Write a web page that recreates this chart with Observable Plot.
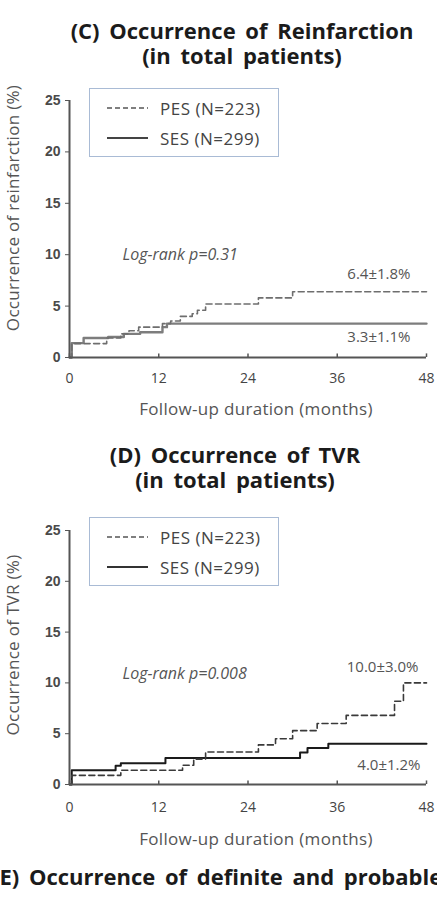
<!DOCTYPE html>
<html>
<head>
<meta charset="utf-8">
<script src="https://cdn.jsdelivr.net/npm/d3@7"></script>
<script src="https://cdn.jsdelivr.net/npm/@observablehq/plot@0.6"></script>
<style>
  html, body { margin: 0; padding: 0; background: #fff; }
  body { width: 437px; height: 897px; overflow: hidden; position: relative; font-family: "Open Sans", sans-serif; }
  .title { position: absolute; font-weight: 700; font-size: 22px; line-height: 25px; color: #1b1b1b;
           text-align: center; white-space: nowrap; word-spacing: 4px; transform: translateX(-50%); }
  .xlab { position: absolute; font-size: 17px; line-height: 17px; color: #555; letter-spacing: 0.3px;
          white-space: nowrap; transform: translateX(-50%); }
  .ylab { position: absolute; font-size: 17px; line-height: 17px; color: #555; letter-spacing: 0.3px;
          white-space: nowrap; transform: translate(-50%, -50%) rotate(-90deg); }
  .legend { position: absolute; box-sizing: border-box; border: 1.5px solid #a9bbd5; background: #fff; }
  .legend .row { position: absolute; left: 0; height: 20px; display: flex; align-items: center; }
  .legend .row span { font-size: 17px; color: #444; letter-spacing: 0.5px; margin-left: 12px; white-space: nowrap; }
  .panel { position: absolute; left: 0; }
</style>
</head>
<body>
<script>
// Follow-up time axis (months) and outcome axis (%)
const monthTicks = [0, 12, 24, 36, 48];
const pctTicks = [0, 5, 10, 15, 20, 25];

// Stent groups
const groups = ["PES", "SES"];
const groupN = [223, 299];

// (C) Cumulative reinfarction, Kaplan-Meier steps
const reinfPesMonths = [0, 0.3, 5.0, 6.9, 8.0, 9.3, 12.5, 13.6, 14.9, 16.5, 17.2, 18.3, 25.4, 30.0, 48];
const reinfPesPct    = [0, 1.35, 1.9, 2.3, 2.6, 2.95, 3.3, 3.55, 4.0, 4.25, 4.6, 5.2, 5.8, 6.4, 6.4];
const reinfSesMonths = [0, 0.3, 1.9, 5.2, 7.3, 9.5, 12.5, 13.1, 48];
const reinfSesPct    = [0, 1.4, 1.9, 2.0, 2.3, 2.45, 2.95, 3.3, 3.3];
const reinfSE = [1.8, 1.1];
const reinfLogRank = "0.31";

// (D) Cumulative target vessel revascularisation
const tvrPesMonths = [0, 0.3, 6.9, 15.2, 16.7, 18.3, 25.4, 27.7, 30.0, 33.3, 37.2, 43.7, 44.9, 48];
const tvrPesPct    = [0, 0.9, 1.4, 1.9, 2.5, 3.2, 3.9, 4.5, 5.3, 6.0, 6.8, 8.2, 10.0, 10.0];
const tvrSesMonths = [0, 0.3, 6.2, 6.9, 12.9, 31.0, 32.0, 34.8, 48];
const tvrSesPct    = [0, 1.4, 1.85, 2.1, 2.6, 3.15, 3.6, 4.0, 4.0];
const tvrSE = [3.0, 1.2];
const tvrLogRank = "0.008";

function steps(months, pct, group) {
  return months.map((m, i) => ({month: m, pct: pct[i], group}));
}

function addText(cls, text, style) {
  const d = document.createElement("div");
  d.className = cls;
  d.innerHTML = text;
  Object.assign(d.style, style);
  document.body.appendChild(d);
  return d;
}

// Boxed key: a line sample and the group size for each stent
function addLegend(top, colors, dashes, widths) {
  const box = document.createElement("div");
  box.className = "legend";
  Object.assign(box.style, {left: "89px", top: top + "px", width: "190px", height: "69px"});
  const ns = "http://www.w3.org/2000/svg";
  groups.forEach((g, i) => {
    const row = document.createElement("div");
    row.className = "row";
    row.style.top = (i === 0 ? 9 : 39) + "px";
    row.style.left = "17px";
    const s = document.createElementNS(ns, "svg");
    s.setAttribute("width", 41); s.setAttribute("height", 6);
    const l = document.createElementNS(ns, "line");
    l.setAttribute("x1", 0); l.setAttribute("x2", 41); l.setAttribute("y1", 3); l.setAttribute("y2", 3);
    l.setAttribute("stroke", colors[i]); l.setAttribute("stroke-width", widths[i]);
    if (dashes[i]) l.setAttribute("stroke-dasharray", dashes[i]);
    s.appendChild(l);
    const t = document.createElement("span");
    t.textContent = `${g} (N=${groupN[i]})`;
    row.appendChild(s); row.appendChild(t);
    box.appendChild(row);
  });
  document.body.appendChild(box);
}

function panel({top, height, marginTop, marginBottom, pes, ses, se, logRank, colors, widths,
                tickPad, logDy, endDx, endDy}) {
  const ends = [
    {group: "PES", month: pes[pes.length - 1].month, pct: pes[pes.length - 1].pct, se: se[0]},
    {group: "SES", month: ses[ses.length - 1].month, pct: ses[ses.length - 1].pct, se: se[1]}
  ];
  const chart = Plot.plot({
    width: 437, height,
    marginLeft: 69, marginRight: 11, marginTop, marginBottom,
    x: {domain: [0, 48]},
    y: {domain: [0, 25]},
    style: {fontFamily: "Open Sans, sans-serif", background: "transparent", overflow: "visible"},
    marks: [
      Plot.line(ses, {x: "month", y: "pct", curve: "step-after", stroke: colors[1], strokeWidth: widths[1]}),
      Plot.line(pes, {x: "month", y: "pct", curve: "step-after", stroke: colors[0], strokeWidth: widths[0],
                      strokeDasharray: "6,3.5"}),
      Plot.ruleX([0], {stroke: "#555", strokeWidth: 2}),
      Plot.ruleY([0], {stroke: "#555", strokeWidth: 2}),
      Plot.ruleX(monthTicks, {y1: 0, y2: 0.35, stroke: "#555", strokeWidth: 1.5}),
      Plot.axisX({ticks: monthTicks, tickSize: 0, tickPadding: tickPad, label: null,
                  fontSize: 14, fill: "#444"}),
      Plot.axisY({ticks: pctTicks, tickSize: 4, tickPadding: 5, label: null, stroke: "#555",
                  fontSize: 14, fontWeight: 700, fontFamily: "Liberation Sans, Arial, sans-serif", fill: "#4a4a4a"}),
      Plot.text([logRank], {frameAnchor: "top-left", dx: 53, dy: logDy, lineAnchor: "middle", textAnchor: "start",
                            text: d => `Log-rank p=${d}`, fontStyle: "italic", fontSize: 16, fill: "#555"}),
      ...ends.map((e, i) =>
        Plot.text([e], {x: "month", y: "pct", text: d => `${d.pct.toFixed(1)}±${d.se.toFixed(1)}%`,
                        textAnchor: "end", lineAnchor: "middle", fontSize: 15, fill: "#555",
                        dx: endDx[i], dy: endDy[i]}))
    ]
  });
  const wrap = document.createElement("div");
  wrap.className = "panel";
  wrap.style.top = top + "px";
  wrap.appendChild(chart);
  document.body.appendChild(wrap);
}

// (C) Reinfarction
addText("title", "(C) Occurrence of Reinfarction<br>(in total patients)", {left: "242px", top: "18px"});
panel({
  top: 80, height: 315, marginTop: 20, marginBottom: 38,
  pes: steps(reinfPesMonths, reinfPesPct, "PES"),
  ses: steps(reinfSesMonths, reinfSesPct, "SES"),
  se: reinfSE, logRank: reinfLogRank,
  colors: ["#6e6e6e", "#7d7d7d"], widths: [1.6, 2.4],
  tickPad: 16, logDy: 154, endDx: [-16, -16], endDy: [-18, 14]
});
addLegend(88, ["#555", "#444"], ["5,3", null], [1.4, 2]);
addText("ylab", "Occurrence of reinfarction (%)", {left: "12px", top: "208px"});
addText("xlab", "Follow-up duration (months)", {left: "256px", top: "400px"});

// (D) TVR
addText("title", "(D) Occurrence of TVR<br>(in total patients)", {left: "235px", top: "442px"});
panel({
  top: 510, height: 305, marginTop: 20, marginBottom: 31,
  pes: steps(tvrPesMonths, tvrPesPct, "PES"),
  ses: steps(tvrSesMonths, tvrSesPct, "SES"),
  se: tvrSE, logRank: tvrLogRank,
  colors: ["#3a3a3a", "#1a1a1a"], widths: [1.6, 2],
  tickPad: 18, logDy: 143, endDx: [-8, -6], endDy: [-16, 21]
});
addLegend(517, ["#555", "#333"], ["5,3", null], [1.4, 2]);
addText("ylab", "Occurrence of TVR (%)", {left: "12px", top: "645px"});
addText("xlab", "Follow-up duration (months)", {left: "256px", top: "830px"});

// Heading of the next panel (E), running past the page edge
addText("title", "(E) Occurrence of definite and probable", {left: "0px", top: "864px", transform: "translateX(-8px)"});
</script>
</body>
</html>
